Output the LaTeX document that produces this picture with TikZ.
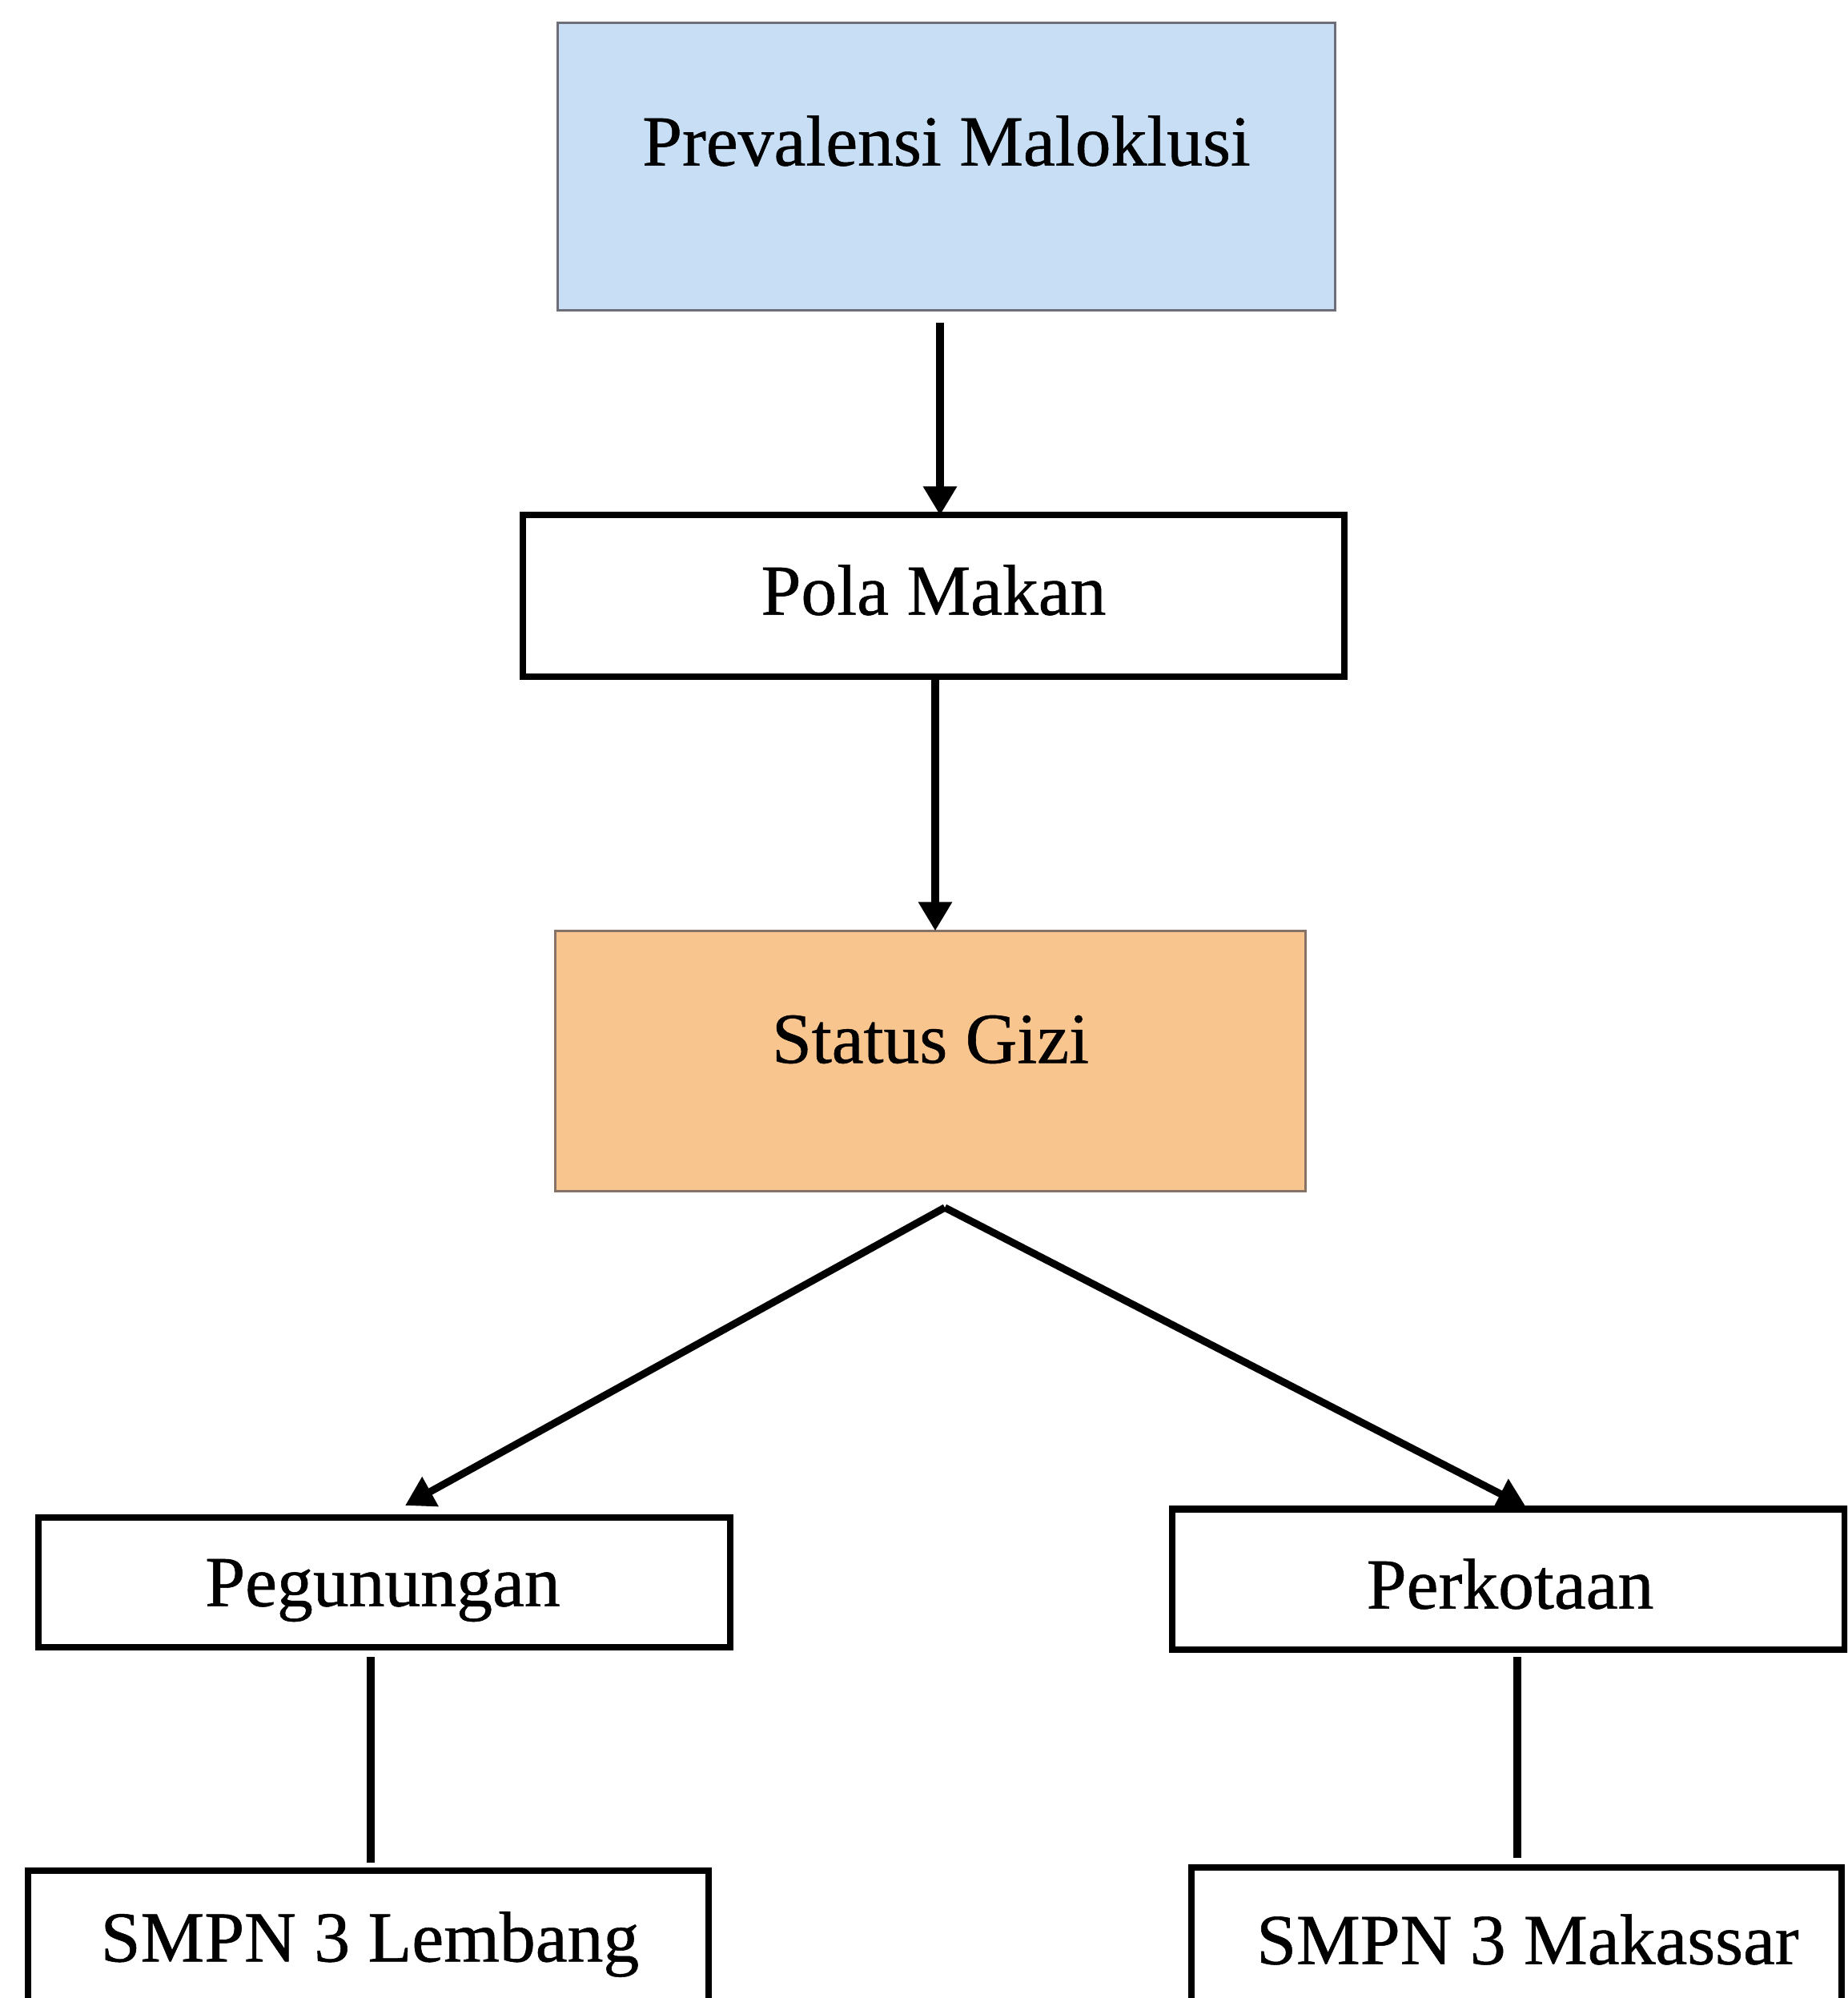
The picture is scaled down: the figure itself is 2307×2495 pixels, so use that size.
\documentclass[tikz,border=0pt]{standalone}
\usepackage{fontspec}
\setmainfont[FakeBold=0.6]{Liberation Serif}
\usetikzlibrary{arrows.meta}
\definecolor{boxblue}{RGB}{199,222,245}
\definecolor{boxorange}{RGB}{249,197,143}
\definecolor{thinedge}{RGB}{110,110,120}
\begin{document}
\begin{tikzpicture}[x=0.01cm,y=-0.01cm,
  every node/.style={inner sep=0pt,outer sep=0pt},
  txt/.style={font=\fontsize{25.5pt}{30pt}\selectfont},
  plainbox/.style={draw=black,line width=2.3pt,fill=white,rectangle},
  bluebox/.style={draw=thinedge,line width=0.8pt,fill=boxblue,rectangle},
  orangebox/.style={draw=thinedge!70!brown,line width=0.8pt,fill=boxorange,rectangle},
  arr/.style={line width=2.6pt,-{Triangle[length=0.36cm,width=0.40cm]}},
  link/.style={line width=2.6pt}]
\useasboundingbox (0,0) rectangle (2307,2495);
\clip (0,0) rectangle (2307,2495);
\fill[white] (0,0) rectangle (2307,2495);

% boxes
\node[bluebox,minimum width=9.70cm,minimum height=3.58cm] (prev) at (1182,208) {};
\node[txt] (prevt) at (1182,176) {Prevalensi Maloklusi};

\node[plainbox,minimum width=10.25cm,minimum height=2.01cm] (pola) at (1166,744) {};
\node[txt] (polat) at (1166,737) {Pola Makan};

\node[orangebox,minimum width=9.37cm,minimum height=3.25cm] (gizi) at (1162,1325) {};
\node[txt] (gizit) at (1162,1298) {Status Gizi};

\node[plainbox,minimum width=8.64cm,minimum height=1.62cm] (peg) at (480,1976) {};
\node[txt] (pegt) at (478,1986) {Pegunungan};

\node[plainbox,minimum width=8.40cm,minimum height=1.75cm] (perk) at (1884,1972) {};
\node[txt] (perkt) at (1886,1978) {Perkotaan};

\node[plainbox,minimum width=8.50cm,minimum height=2.24cm] (lemb) at (460,2448) {};
\node[txt] (lembt) at (462,2428) {SMPN 3 Lembang};

\node[plainbox,minimum width=8.11cm,minimum height=2.28cm] (maka) at (1894,2446) {};
\node[txt] (makat) at (1908,2422) {SMPN 3 Makassar};

% connector coordinates
\coordinate (a1s) at (1174,403);
\coordinate (a2x) at (1168,0);
\coordinate (apex) at (1180,1508);
\coordinate (tipL) at (506,1880);
\coordinate (tipR) at (1906,1882);

% connectors
\draw[arr] (a1s) -- (a1s |- pola.north);
\draw[arr] (a2x |- pola.south) -- (a2x |- gizi.north);
\draw[arr] (apex) -- (tipL);
\draw[arr] (apex) -- (tipR);
\draw[link] (463,2069) coordinate (vl1) -- (463,2326) coordinate (vl2);
\draw[link] (1895,2069) coordinate (vr1) -- (1895,2320) coordinate (vr2);
\end{tikzpicture}
\end{document}
